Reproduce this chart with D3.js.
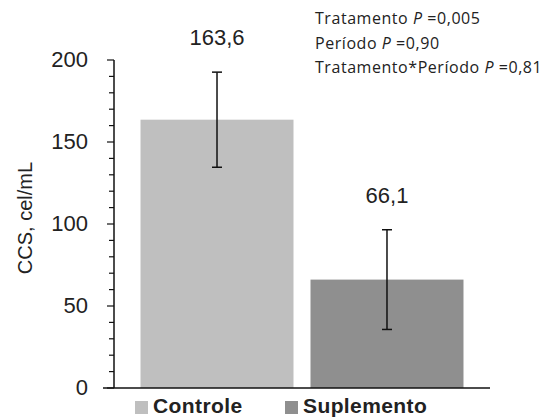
<!DOCTYPE html>
<html>
<head>
<meta charset="utf-8">
<script src="https://cdn.jsdelivr.net/npm/d3@7"></script>
<style>
	body { margin: 0; background: #fff; }
	svg { display: block; }
	.num { font-family: "Liberation Sans", Arial, sans-serif; fill: #222; }
	.note { font-family: "Open Sans", Lato, sans-serif; fill: #222; }
</style>
</head>
<body>
<svg id="chart" width="547" height="418"></svg>
<script>
// data
var categories = ["Controle", "Suplemento"];
var means = [163.6, 66.1];
var errors = [29, 30.4];
var valueLabels = ["163,6", "66,1"];
var colors = ["#bfbfbf", "#8f8f8f"];
var yTicks = [0, 50, 100, 150, 200];
var notes = [
	["Tratamento ", "P", " =0,005"],
	["Período ", "P", " =0,90"],
	["Tratamento*Período ", "P", " =0,81"]
];

var svg = d3.select("#chart");

var x = d3.scaleBand()
	.domain(categories)
	.range([114, 490])
	.paddingInner(0.1)
	.paddingOuter(0.156);

var y = d3.scaleLinear()
	.domain([0, 200])
	.range([388, 60]);

// bars
svg.selectAll(".bar")
	.data(categories)
	.enter()
	.append("rect")
	.attr("class", "bar")
	.attr("x", function(d){ return x(d); })
	.attr("width", x.bandwidth())
	.attr("y", function(d,i){ return y(means[i]); })
	.attr("height", function(d,i){ return y(0) - y(means[i]); })
	.attr("fill", function(d,i){ return colors[i]; });

// error bars
var eb = svg.selectAll(".err")
	.data(categories)
	.enter()
	.append("g")
	.attr("class", "err")
	.attr("stroke", "#111")
	.attr("stroke-width", 1.5);
eb.append("line")
	.attr("x1", function(d){ return x(d) + x.bandwidth()/2; })
	.attr("x2", function(d){ return x(d) + x.bandwidth()/2; })
	.attr("y1", function(d,i){ return y(means[i] + errors[i]); })
	.attr("y2", function(d,i){ return y(means[i] - errors[i]); });
[1, -1].forEach(function(s){
	eb.append("line")
		.attr("x1", function(d){ return x(d) + x.bandwidth()/2 - 5; })
		.attr("x2", function(d){ return x(d) + x.bandwidth()/2 + 5; })
		.attr("y1", function(d,i){ return y(means[i] + s*errors[i]); })
		.attr("y2", function(d,i){ return y(means[i] + s*errors[i]); });
});

// value labels above the error bars
svg.selectAll(".vlab")
	.data(categories)
	.enter()
	.append("text")
	.attr("class", "vlab num")
	.attr("x", function(d){ return x(d) + x.bandwidth()/2; })
	.attr("y", function(d,i){ return y(means[i] + errors[i]) - 27; })
	.attr("text-anchor", "middle")
	.attr("font-size", 22)
	.text(function(d,i){ return valueLabels[i]; });

// y axis with minor ticks
var yAxis = svg.append("g").attr("transform", "translate(114,0)");
yAxis.append("line")
	.attr("x1", 0).attr("x2", 0)
	.attr("y1", y(200)).attr("y2", y(0))
	.attr("stroke", "#111").attr("stroke-width", 1.5);
yAxis.selectAll(".minor")
	.data(d3.range(0, 201, 10))
	.enter()
	.append("line")
	.attr("x1", function(d){ return d % 50 === 0 ? -7 : -5; })
	.attr("x2", 0)
	.attr("y1", function(d){ return y(d); })
	.attr("y2", function(d){ return y(d); })
	.attr("stroke", "#111").attr("stroke-width", 1.2);
yAxis.selectAll(".ylab")
	.data(yTicks)
	.enter()
	.append("text")
	.attr("class", "num")
	.attr("x", -26)
	.attr("y", function(d){ return y(d); })
	.attr("dy", "0.3em")
	.attr("text-anchor", "end")
	.attr("font-size", 22)
	.text(function(d){ return d; });

// x axis line
svg.append("line")
	.attr("x1", 103).attr("x2", 490)
	.attr("y1", y(0)).attr("y2", y(0))
	.attr("stroke", "#111").attr("stroke-width", 1.5);

// y title
svg.append("text")
	.attr("class", "num")
	.attr("transform", "translate(32,218) rotate(-90)")
	.attr("text-anchor", "middle")
	.attr("font-size", 20)
	.text("CCS, cel/mL");

// legend at the bottom (clipped by the image edge in the original)
var legX = [135, 285];
var leg = svg.selectAll(".leg")
	.data(categories)
	.enter()
	.append("g")
	.attr("transform", function(d,i){ return "translate(" + legX[i] + ",401)"; });
leg.append("rect")
	.attr("width", 13).attr("height", 13)
	.attr("fill", function(d,i){ return colors[i]; });
leg.append("text")
	.attr("class", "num")
	.attr("x", 18)
	.attr("y", 12)
	.attr("font-size", 21)
	.attr("font-weight", "bold")
	.attr("letter-spacing", 0.4)
	.text(function(d){ return d; });

// statistics note, top right
var nt = svg.selectAll(".note")
	.data(notes)
	.enter()
	.append("text")
	.attr("class", "note")
	.attr("x", 315)
	.attr("y", function(d,i){ return 24 + i*24.5; })
	.attr("font-size", 16)
	.attr("letter-spacing", 0.55);
nt.selectAll("tspan")
	.data(function(d){ return d; })
	.enter()
	.append("tspan")
	.attr("font-style", function(d,i){ return i === 1 ? "italic" : null; })
	.text(function(d){ return d; });
</script>
</body>
</html>
